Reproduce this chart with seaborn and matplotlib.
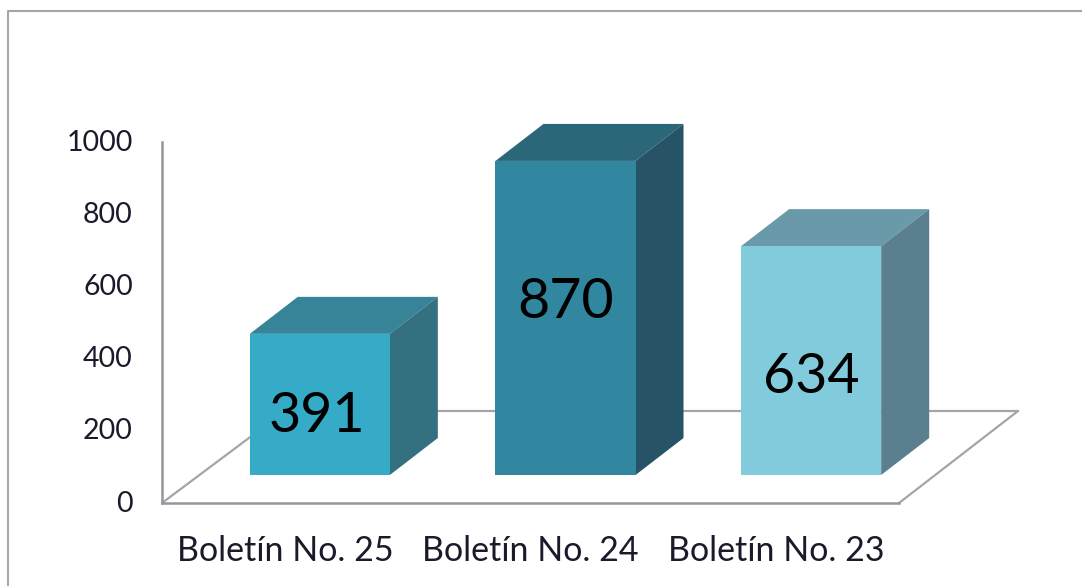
import numpy as np
import pandas as pd
import matplotlib
matplotlib.use("Agg")
import matplotlib.pyplot as plt
import seaborn as sns
from matplotlib.patches import Polygon
from matplotlib.lines import Line2D
from matplotlib.transforms import Affine2D

# Data
categories = ["Boletín No. 25", "Boletín No. 24", "Boletín No. 23"]
values = [391, 870, 634]
y_ticks = [0, 200, 400, 600, 800, 1000]

front_colors = ["#35abc8", "#3186a0", "#81cbdd"]
top_colors = ["#378397", "#2b6679", "#6a9aaa"]
side_colors = ["#34707f", "#275366", "#5a7f8e"]

# hand placed value labels, in pixels from the middle of the bar
label_offsets = [(-3, -12), (0, 15), (0, -17)]

W, H = 1082, 586

sns.set_theme(style="white")
plt.rcParams["font.family"] = ["Lato", "DejaVu Sans"]

df = pd.DataFrame({"boletin": categories, "valor": values})

fig = plt.figure(figsize=(W / 100, H / 100), dpi=100)
ax = fig.add_axes([162 / W, 1 - 503 / H, (899 - 162) / W, (503 - 142) / H])
ax.patch.set_alpha(0)

sns.barplot(data=df, x="boletin", y="valor", hue="boletin", palette=front_colors,
            legend=False, width=0.57, saturation=1, ax=ax, zorder=3)
ax.set_ylim(0, 1000)
ax.set_xlim(-0.5, 2.5)
ax.set_yticks(y_ticks)
ax.set_xlabel("")
ax.set_ylabel("")
ax.tick_params(axis="y", labelsize=20.5, length=0, pad=21, labelcolor="#1a1a2a")
ax.tick_params(axis="x", labelsize=24.5, length=0, pad=23, labelcolor="#1a1a2a")
for lab in ax.get_yticklabels():
    lab.set_transform(lab.get_transform() + Affine2D().translate(0, 2))
sns.despine(ax=ax)
for s in ["left", "bottom"]:
    ax.spines[s].set_color("#96969c")
    ax.spines[s].set_linewidth(1.8)

fig.canvas.draw()


def to_fig(x, y):
    return (x / W, 1 - y / H)


# floor lines, drawn under the bars
for p0, p1 in [((162, 503), (285, 411)), ((285, 411), (1018, 411)), ((899, 503), (1018, 411))]:
    x0, y0 = to_fig(*p0)
    x1, y1 = to_fig(*p1)
    fig.add_artist(Line2D([x0, x1], [y0, y1], color="#a4a4aa", lw=1.6, zorder=0))

# frame of the picture
x0, y0 = to_fig(8, 586)
x1, y1 = to_fig(8, 11)
x2, y2 = to_fig(1082, 11)
fig.add_artist(Line2D([x0, x1, x2], [y0, y1, y2], color="#a6a6a6", lw=1.5, zorder=0))

# shift bars to the front of the floor and add the top and side faces
shift_x, shift_y = 35, 28
dx, dy = 48, 37
shift = Affine2D().translate(shift_x, shift_y)
for i, bar in enumerate(ax.patches):
    bar.set_linewidth(0)
    bar.set_transform(ax.transData + shift)
    bar.set_clip_on(False)
    xl, xr = bar.get_x(), bar.get_x() + bar.get_width()
    top = bar.get_height()
    (pl, pb), (pr, pt) = ax.transData.transform([(xl, 0), (xr, top)])
    pl, pr, pb, pt = pl + shift_x, pr + shift_x, pb + shift_y, pt + shift_y
    fig.add_artist(Polygon([(pl, pt), (pr, pt), (pr + dx, pt + dy), (pl + dx, pt + dy)],
                           closed=True, fc=top_colors[i], ec="none",
                           transform=None, zorder=2))
    fig.add_artist(Polygon([(pr, pb), (pr + dx, pb + dy), (pr + dx, pt + dy), (pr, pt)],
                           closed=True, fc=side_colors[i], ec="none",
                           transform=None, zorder=2))
    ax.annotate(str(values[i]), xy=((xl + xr) / 2, top / 2),
                xycoords=ax.transData + shift, xytext=label_offsets[i], textcoords="offset pixels",
                ha="center", va="center", fontsize=40, color="black", zorder=5,
                annotation_clip=False)

# the axes has to sit on top of the figure level polygons
ax.set_zorder(3)

fig.savefig("out.png", dpi=100)
